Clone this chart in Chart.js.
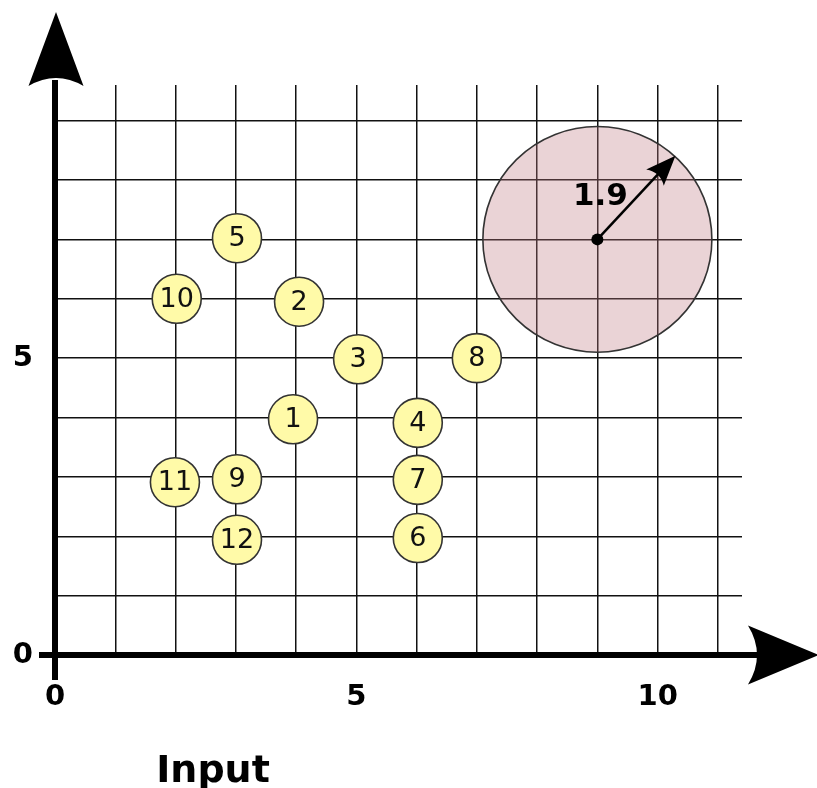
<!DOCTYPE html>
<html>
<head>
<meta charset="utf-8">
<script src="https://cdn.jsdelivr.net/npm/chart.js@4"></script>
<style>
  html, body { margin: 0; padding: 0; background: #fff; }
  #wrap { width: 817px; height: 788px; position: relative; }
</style>
</head>
<body>
<div id="wrap"><canvas id="grafico"></canvas></div>
<script>
// numbered input points
const etiquetas = ['1', '2', '3', '4', '5', '6', '7', '8', '9', '10', '11', '12'];
const valoresX = [3.95, 4.05, 5.03, 6.02, 3.02, 6.02, 6.02, 7.0, 3.02, 2.02, 1.99, 3.02];
const valoresY = [3.97, 5.95, 4.98, 3.91, 7.02, 1.97, 2.95, 5.0, 2.96, 6.0, 2.91, 1.94];

// query point and its radius
const centroX = [9.0];
const centroY = [7.0];
const radio = 1.9;

const ticksX = [0, 5, 10];
const ticksY = [0, 5];
const tituloX = 'Input';

const fuente = "'DejaVu Sans', sans-serif";

const puntos = valoresX.map((x, i) => ({ x: x, y: valoresY[i] }));
const centro = centroX.map((x, i) => ({ x: x, y: centroY[i] }));

// filled arrow head with a concave back, tip at (x, y), pointing along ang
function punta(ctx, x, y, ang, largo, ancho, muesca) {
    ctx.save();
    ctx.translate(x, y);
    ctx.rotate(ang);
    ctx.beginPath();
    ctx.moveTo(0, 0);
    ctx.lineTo(-largo, -ancho);
    ctx.quadraticCurveTo(-largo + 2 * muesca, 0, -largo, ancho);
    ctx.closePath();
    ctx.fillStyle = '#000';
    ctx.fill();
    ctx.restore();
}

const dibujoExtra = {
    id: 'dibujoExtra',
    beforeDatasetsDraw(chart) {
        // circle of radius `radio` around the query point, in data units
        const ctx = chart.ctx;
        const sx = chart.scales.x;
        const sy = chart.scales.y;
        const cx = sx.getPixelForValue(centroX[0]);
        const cy = sy.getPixelForValue(centroY[0]);
        const rx = sx.getPixelForValue(centroX[0] + radio) - cx;
        const ry = cy - sy.getPixelForValue(centroY[0] + radio);
        ctx.save();
        ctx.beginPath();
        ctx.ellipse(cx, cy, rx, ry, 0, 0, Math.PI * 2);
        ctx.fillStyle = 'rgba(190, 120, 130, 0.33)';
        ctx.fill();
        ctx.lineWidth = 1.6;
        ctx.strokeStyle = '#333';
        ctx.stroke();
        ctx.restore();
    },
    afterDatasetsDraw(chart) {
        const ctx = chart.ctx;
        const sx = chart.scales.x;
        const sy = chart.scales.y;
        const x0 = sx.getPixelForValue(0);
        const y0 = sy.getPixelForValue(0);

        // axes with arrows
        ctx.save();
        ctx.strokeStyle = '#000';
        ctx.lineWidth = 6;
        ctx.beginPath();
        ctx.moveTo(x0, y0 + 25);
        ctx.lineTo(x0, 80);
        ctx.moveTo(x0 - 16, y0);
        ctx.lineTo(760, y0);
        ctx.stroke();
        ctx.restore();
        punta(ctx, x0 + 1, 12, -Math.PI / 2, 74, 27.5, 8);
        punta(ctx, 819, y0, 0, 71, 29.5, 9);

        // radius arrow
        const cx = sx.getPixelForValue(centroX[0]);
        const cy = sy.getPixelForValue(centroY[0]);
        const r = sx.getPixelForValue(centroX[0] + radio) - cx;
        const ang = -47 * Math.PI / 180;
        const tx = cx + r * Math.cos(ang);
        const ty = cy + r * Math.sin(ang);
        ctx.save();
        ctx.strokeStyle = '#000';
        ctx.lineWidth = 2.5;
        ctx.beginPath();
        ctx.moveTo(cx, cy);
        ctx.lineTo(cx + (r - 22) * Math.cos(ang), cy + (r - 22) * Math.sin(ang));
        ctx.stroke();
        ctx.restore();
        punta(ctx, tx, ty, ang, 30, 12, 4);

        ctx.save();
        ctx.fillStyle = '#000';
        ctx.textAlign = 'center';
        ctx.textBaseline = 'middle';
        ctx.font = 'bold 31px ' + fuente;
        ctx.fillText(String(radio), cx + 3, cy - 42);

        // point numbers
        ctx.font = '27px ' + fuente;
        ctx.fillStyle = '#111';
        const meta = chart.getDatasetMeta(0);
        meta.data.forEach((el, i) => {
            ctx.fillText(etiquetas[i], el.x, el.y + 1);
        });

        // axis title
        ctx.fillStyle = '#000';
        ctx.font = 'bold 38px ' + fuente;
        ctx.textBaseline = 'alphabetic';
        ctx.fillText(tituloX, 213, 782);
        ctx.restore();
    }
};

const ctx = document.getElementById('grafico').getContext('2d');
new Chart(ctx, {
    type: 'scatter',
    data: {
        datasets: [
            {
                label: 'puntos',
                data: puntos,
                pointRadius: 24.5,
                backgroundColor: '#fffaa8',
                borderColor: '#333',
                borderWidth: 1.6
            },
            {
                label: 'centro',
                data: centro,
                pointRadius: 6,
                backgroundColor: '#000',
                borderColor: '#000',
                borderWidth: 0
            }
        ]
    },
    options: {
        responsive: true,
        maintainAspectRatio: false,
        animation: false,
        events: [],
        layout: { padding: { top: 85, right: 75, left: 0, bottom: 0 } },
        plugins: {
            legend: { display: false },
            tooltip: { enabled: false }
        },
        scales: {
            x: {
                type: 'linear',
                min: 0,
                max: 11.4,
                border: { display: false },
                grid: { color: '#111', lineWidth: 1.5, drawTicks: false },
                ticks: {
                    stepSize: 1,
                    includeBounds: false,
                    autoSkip: false,
                    maxRotation: 0,
                    padding: 25,
                    color: '#000',
                    font: { family: fuente, size: 29, weight: 'bold' },
                    callback: v => ticksX.includes(v) ? String(v) : ''
                },
                afterFit: s => { s.height = 133; }
            },
            y: {
                type: 'linear',
                min: 0,
                max: 9.6,
                border: { display: false },
                grid: { color: '#111', lineWidth: 1.5, drawTicks: false },
                ticks: {
                    stepSize: 1,
                    includeBounds: false,
                    autoSkip: false,
                    padding: 22,
                    color: '#000',
                    font: { family: fuente, size: 29, weight: 'bold' },
                    callback: v => ticksY.includes(v) ? String(v) : ''
                },
                afterFit: s => { s.width = 55; }
            }
        }
    },
    plugins: [dibujoExtra]
});
</script>
</body>
</html>
